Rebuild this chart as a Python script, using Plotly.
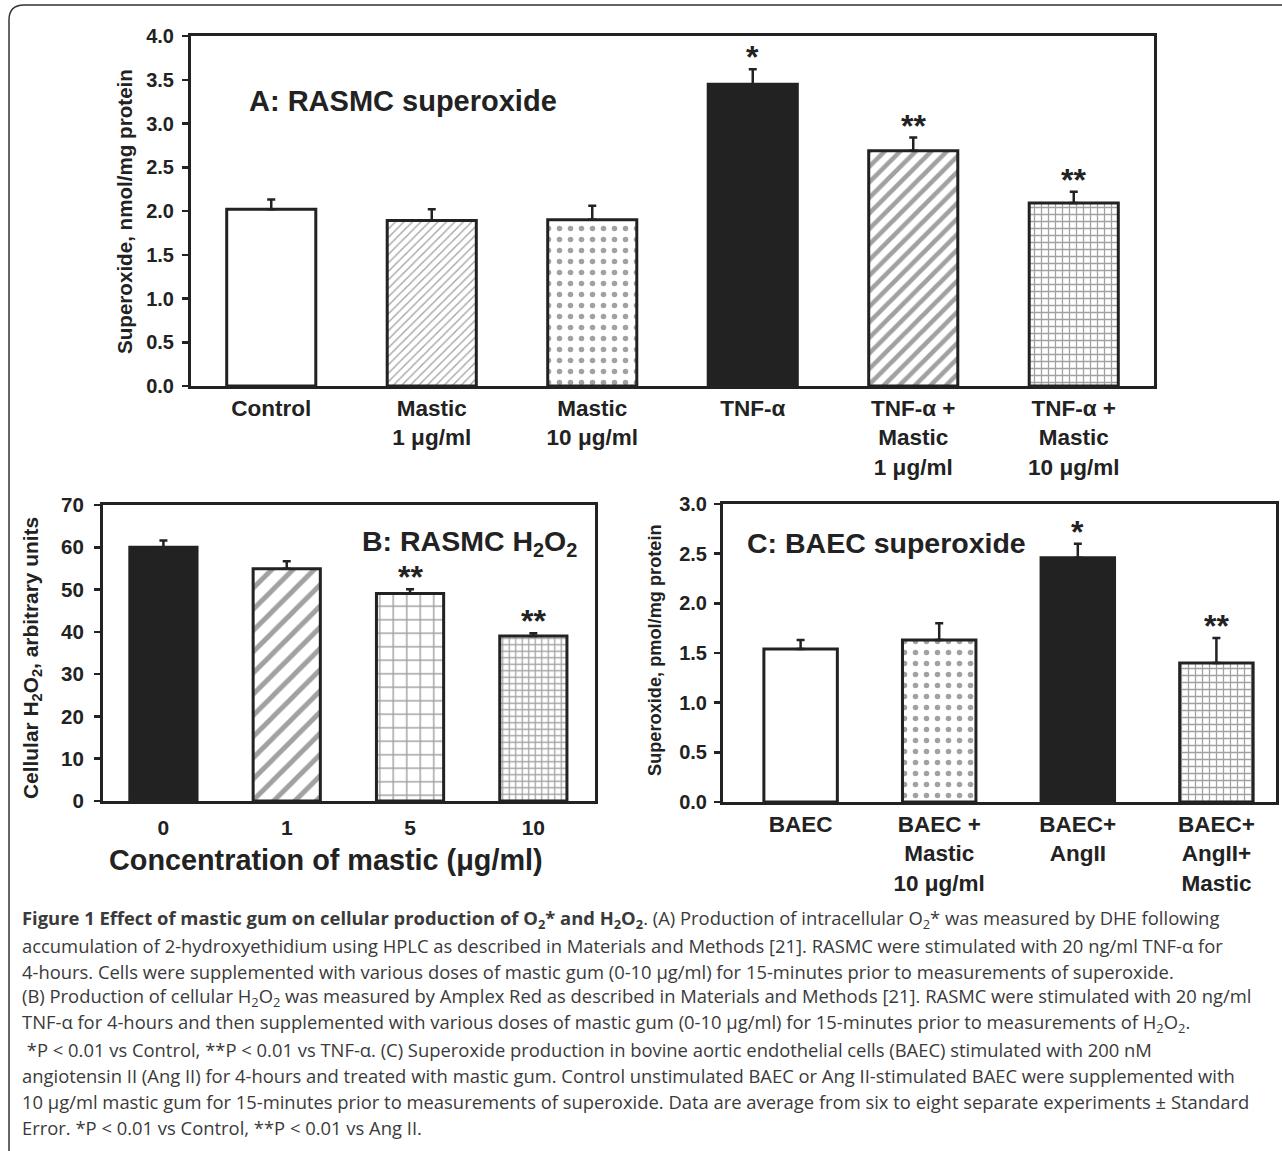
import plotly.graph_objects as go

W, H = 1282, 1151
def px(x): return x / W
def py(y): return 1 - y / H

FONT = "Liberation Sans, Arial, sans-serif"
INK = "#222222"

# ---------------- data ----------------
A_labels = ["Control", "Mastic<br>1 μg/ml", "Mastic<br>10 μg/ml", "TNF-α",
            "TNF-α +<br>Mastic<br>1 μg/ml", "TNF-α +<br>Mastic<br>10 μg/ml"]
A_vals = [2.02, 1.89, 1.90, 3.45, 2.69, 2.09]
A_err = [0.11, 0.13, 0.16, 0.17, 0.15, 0.13]
A_stars = ["", "", "", "*", "**", "**"]

B_labels = ["0", "1", "5", "10"]
B_vals = [60.0, 54.9, 49.1, 39.0]
B_err = [1.6, 1.8, 1.0, 0.7]
B_stars = ["", "", "**", "**"]

C_labels = ["BAEC", "BAEC +<br>Mastic<br>10 μg/ml", "BAEC+<br>AngII", "BAEC+<br>AngII+<br>Mastic"]
C_vals = [1.54, 1.63, 2.46, 1.40]
C_err = [0.09, 0.17, 0.14, 0.25]
C_stars = ["", "", "*", "**"]

caption_lines = [
    "<b>Figure 1 Effect of mastic gum on cellular production of O<sub>2</sub>* and H<sub>2</sub>O<sub>2</sub></b>. (A) Production of intracellular O<sub>2</sub>* was measured by DHE following",
    "accumulation of 2-hydroxyethidium using HPLC as described in Materials and Methods [21]. RASMC were stimulated with 20 ng/ml TNF-α for",
    "4-hours. Cells were supplemented with various doses of mastic gum (0-10 μg/ml) for 15-minutes prior to measurements of superoxide.",
    "(B) Production of cellular H<sub>2</sub>O<sub>2</sub> was measured by Amplex Red as described in Materials and Methods [21]. RASMC were stimulated with 20 ng/ml",
    "TNF-α for 4-hours and then supplemented with various doses of mastic gum (0-10 μg/ml) for 15-minutes prior to measurements of H<sub>2</sub>O<sub>2</sub>.",
    " *P < 0.01 vs Control, **P < 0.01 vs TNF-α. (C) Superoxide production in bovine aortic endothelial cells (BAEC) stimulated with 200 nM",
    "angiotensin II (Ang II) for 4-hours and treated with mastic gum. Control unstimulated BAEC or Ang II-stimulated BAEC were supplemented with",
    "10 μg/ml mastic gum for 15-minutes prior to measurements of superoxide. Data are average from six to eight separate experiments ± Standard",
    "Error. *P < 0.01 vs Control, **P < 0.01 vs Ang II.",
]

# ---------------- styles ----------------
A_fill = ["white", "white", "white", INK, "white", "white"]
A_shape = ["", "/", ".", "", "/", "+"]
A_psize = [6, 6, 11, 8, 11, 7]
A_solid = [0.3, 0.22, 0.2, 0.3, 0.42, 0.33]
A_fg = [INK, "#666666", "#444444", INK, INK, INK]

B_fill = [INK, "white", "white", "white"]
B_shape = ["", "/", "+", "+"]
B_psize = [8, 15, 13.5, 6.5]
B_solid = [0.3, 0.33, 0.2, 0.35]

C_fill = ["white", "white", INK, "white"]
C_shape = ["", ".", "", "+"]
C_psize = [8, 11, 8, 7]
C_solid = [0.3, 0.2, 0.3, 0.33]
C_fg = [INK, "#444444", INK, INK]

fig = go.Figure()

def add_bars(vals, errs, fill, shape, psize, solid, fg, xa, ya, width):
    fig.add_trace(go.Bar(
        x=list(range(len(vals))), y=vals, xaxis=xa, yaxis=ya, width=width,
        marker=dict(color=fill, line=dict(color=INK, width=3),
                    pattern=dict(shape=shape, size=psize, solidity=solid,
                                 fgcolor=fg, bgcolor=fill, fillmode="overlay")),
        error_y=dict(type="data", array=errs, arrayminus=[0] * len(errs),
                     symmetric=False, color=INK, thickness=2.5, width=4),
        showlegend=False, hoverinfo="skip"))

add_bars(A_vals, A_err, A_fill, A_shape, A_psize, A_solid, A_fg, "x", "y", 0.555)
add_bars(B_vals, B_err, B_fill, B_shape, B_psize, B_solid, [INK] * 4, "x2", "y2", 0.545)
add_bars(C_vals, C_err, C_fill, C_shape, C_psize, C_solid, C_fg, "x3", "y3", 0.53)

def xaxis(domain, labels, rng, anchor, size, standoff=0):
    return dict(domain=domain, anchor=anchor, range=rng, tickmode="array",
                tickvals=list(range(len(labels))), ticktext=labels, automargin=False,
                showline=True, linewidth=3, linecolor=INK, mirror=True,
                ticks="", showgrid=False, zeroline=False, fixedrange=True,
                ticklabelstandoff=standoff,
                tickfont=dict(family=FONT, size=size, color=INK, weight="bold"))

def yaxis(domain, rng, dtick, fmt, anchor, size, standoff=0):
    return dict(domain=domain, anchor=anchor, range=rng, dtick=dtick, tickformat=fmt,
                automargin=False,
                showline=True, linewidth=3, linecolor=INK, mirror=True,
                ticks="outside", ticklen=6, tickwidth=2.5, tickcolor=INK,
                showgrid=False, zeroline=False, fixedrange=True,
                ticklabelstandoff=standoff,
                tickfont=dict(family=FONT, size=size, color=INK, weight="bold"))

fig.update_layout(
    width=W, height=H, autosize=False,
    margin=dict(l=0, r=0, t=0, b=0, autoexpand=False),
    paper_bgcolor="white", plot_bgcolor="white",
    xaxis=xaxis([px(191), px(1154)], A_labels, [-0.5, 5.5], "y", 22.5),
    yaxis=yaxis([py(386), py(36)], [0, 4], 0.5, ".1f", "x", 20, 4),
    xaxis2=xaxis([px(103), px(595)], B_labels, [-0.49, 3.5], "y2", 21, 6),
    yaxis2=yaxis([py(801), py(505)], [0, 70], 10, "d", "x2", 20.5, 6),
    xaxis3=xaxis([px(723), px(1276)], C_labels, [-0.56, 3.43], "y3", 22.5),
    yaxis3=yaxis([py(802), py(504)], [0, 3], 0.5, ".1f", "x3", 20, 3),
)

ann = []
def star_ann(vals, errs, stars, xr, yr):
    for i, (v, e, s) in enumerate(zip(vals, errs, stars)):
        if s:
            ann.append(dict(x=i, y=v + e, xref=xr, yref=yr, text=s, showarrow=False,
                            yanchor="bottom", yshift=-8,
                            font=dict(family=FONT, size=32, color=INK, weight="bold")))
star_ann(A_vals, A_err, A_stars, "x", "y")
star_ann(B_vals, B_err, B_stars, "x2", "y2")
star_ann(C_vals, C_err, C_stars, "x3", "y3")

def text_ann(text, x, y, size, angle=0, xanchor="left", bold=True, family=FONT, color=INK):
    ann.append(dict(x=px(x), y=py(y), xref="paper", yref="paper", text=text,
                    showarrow=False, xanchor=xanchor, yanchor="middle", textangle=angle,
                    font=dict(family=family, size=size, color=color,
                              weight="bold" if bold else "normal")))

# panel titles
text_ann("A: RASMC superoxide", 247, 101, 29)
text_ann("B: RASMC H<sub>2</sub>O<sub>2</sub>", 360, 543, 28.5)
text_ann("C: BAEC superoxide", 745, 543, 28.5)
# axis titles
text_ann("Superoxide, nmol/mg protein", 124, 212, 20.6, angle=-90, xanchor="center")
text_ann("Cellular H<sub>2</sub>O<sub>2</sub>, arbitrary units", 32, 658, 20.9, angle=-90, xanchor="center")
text_ann("Superoxide, pmol/mg protein", 655, 650, 18.2, angle=-90, xanchor="center")
text_ann("Concentration of mastic (μg/ml)", 326, 860, 28.8, xanchor="center")

# caption
cap_y0, cap_dy = 919, 26.0
for i, line in enumerate(caption_lines):
    text_ann(line, 20, cap_y0 + i * cap_dy, 18.4, bold=False,
             family="Open Sans, sans-serif", color="#3a3a3a")

fig.update_layout(annotations=ann)

# outer frame with rounded corner
fig.add_shape(type="path", xref="paper", yref="paper",
              path=f"M {px(9)} {py(1151)} L {px(9)} {py(20)} Q {px(9)} {py(5)} {px(24)} {py(5)} L {px(1290)} {py(5)}",
              line=dict(color="#333333", width=1.5))

fig.write_html("out.html", post_script="document.body.style.margin='0px';",
               config={"displayModeBar": False, "staticPlot": True})
